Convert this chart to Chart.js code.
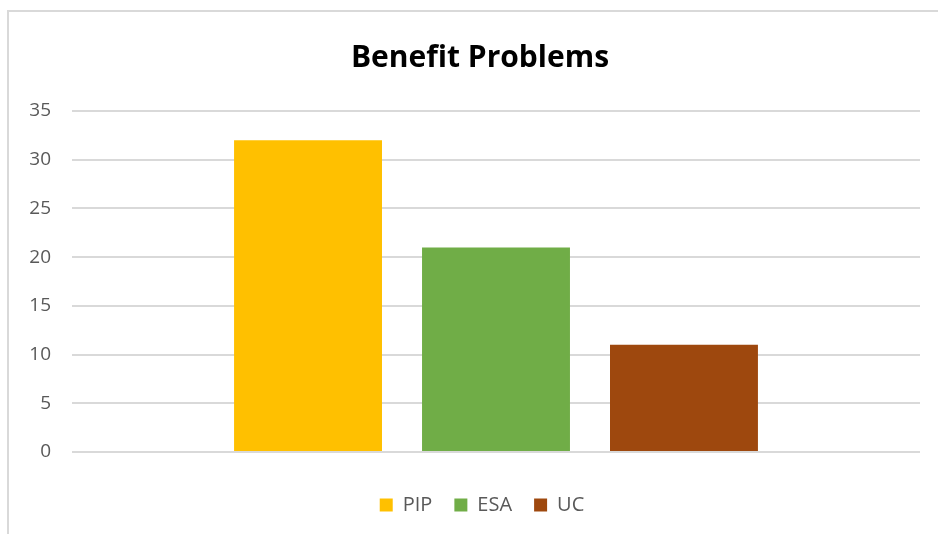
<!DOCTYPE html>
<html>
<head>
<meta charset="utf-8">
<script src="https://cdn.jsdelivr.net/npm/chart.js@4"></script>
<style>
  html, body { margin: 0; padding: 0; background: #ffffff; overflow: hidden; }
  #wrap { position: relative; width: 938px; height: 534px; }
  #frame { position: absolute; left: 7px; top: 10px; width: 960px; height: 560px; border: 2px solid #d9d9d9; box-sizing: border-box; }
  canvas { position: absolute; left: 0; top: 0; }
</style>
</head>
<body>
<div id="wrap">
  <div id="frame"></div>
  <canvas id="c" width="938" height="534"></canvas>
</div>
<script>
const categories = [""];
const seriesNames = ["PIP", "ESA", "UC"];
const seriesValues = [[32], [21], [11]];
const seriesColors = ["#FFC000", "#70AD47", "#9E480E"];
const yTicks = [0, 5, 10, 15, 20, 25, 30, 35];

const datasets = seriesNames.map((name, i) => ({
  label: name,
  data: seriesValues[i],
  backgroundColor: seriesColors[i],
  borderWidth: 0,
  categoryPercentage: 0.665,
  barPercentage: 0.787
}));

// centre title and legend on the framed panel rather than the full canvas
const shiftBlocks = {
  id: "shiftBlocks",
  afterLayout(chart) {
    if (chart.titleBlock) chart.titleBlock.left = 40;
    if (chart.legend) chart.legend.left = 44;
  }
};

new Chart(document.getElementById("c"), {
  type: "bar",
  data: { labels: categories, datasets },
  plugins: [shiftBlocks],
  options: {
    responsive: false,
    animation: false,
    devicePixelRatio: 1,
    layout: { padding: { left: 0, right: 18, top: 30, bottom: 9 } },
    plugins: {
      title: {
        display: true,
        text: "Benefit Problems",
        color: "#000000",
        font: { family: "Open Sans", size: 30, weight: "bold" },
        padding: { top: 10, bottom: 35 }
      },
      legend: {
        position: "bottom",
        labels: {
          color: "#595959",
          font: { family: "Open Sans", size: 20 },
          boxWidth: 13,
          boxHeight: 13,
          padding: 22
        }
      },
      tooltip: { enabled: false }
    },
    scales: {
      x: {
        display: true,
        afterFit: (s) => { s.height = 21; },
        grid: { display: false, drawTicks: false },
        border: { display: false },
        ticks: { display: false }
      },
      y: {
        min: 0,
        max: 35,
        afterBuildTicks: (s) => { s.ticks = yTicks.map(v => ({ value: v })); },
        afterFit: (s) => { s.width = 72; },
        grid: { color: "#d9d9d9", lineWidth: 2, drawTicks: false },
        border: { display: false },
        ticks: {
          color: "#595959",
          font: { family: "Open Sans", size: 19 },
          padding: 21
        }
      }
    }
  }
});
</script>
</body>
</html>
